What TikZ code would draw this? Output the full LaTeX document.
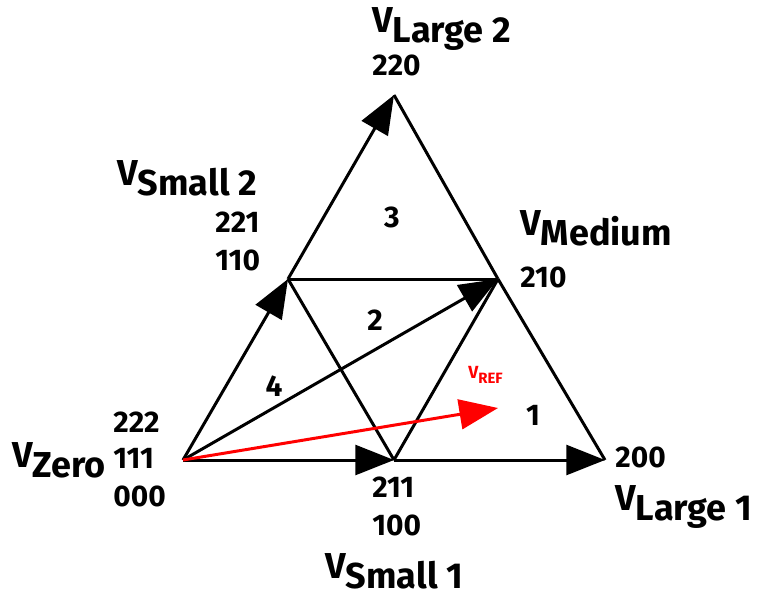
\documentclass[tikz,border=0pt]{standalone}
\usepackage{fontspec}
\setmainfont{Fira Sans}
\usetikzlibrary{arrows.meta, positioning}
\definecolor{VecRed}{HTML}{FF0000}
\newcommand{\vsub}[1]{V\raisebox{-0.3em}{#1}}

\begin{document}
\begin{tikzpicture}[x=0.02cm, y=-0.02cm,
  edge/.style={line width=1.7pt},
  vec/.style={line width=1.7pt, -{Triangle[length=22pt, width=17pt]}},
  vlabel/.style={font=\bfseries\fontsize{20.5}{24}\selectfont, anchor=base west, inner sep=0pt},
  code/.style={font=\bfseries\fontsize{17}{19}\selectfont, anchor=base west, inner sep=0pt},
  region/.style={font=\bfseries\fontsize{17}{19}\selectfont, anchor=base, inner sep=0pt}]
  \useasboundingbox (0,0) rectangle (757,599);
  % Vertices of the vector hexagon sector
  \coordinate (zero) at (183,460);
  \coordinate (small1) at (394,460);
  \coordinate (large1) at (605,460);
  \coordinate (small2) at (288,279);
  \coordinate (medium) at (498,279);
  \coordinate (large2) at (394,95);
  \coordinate (vref) at (498,408);
  % Inner edges
  \draw[edge] (small2) -- (medium);
  \draw[edge] (small2) -- (small1);
  \draw[edge] (small1) -- (medium);
  \draw[edge] (medium) -- (large1);
  \draw[edge] (large2) -- (medium);
  % Switching vectors
  \draw[vec] (zero) -- (small1);
  \draw[vec] (small1) -- (large1);
  \draw[vec] (zero) -- (small2);
  \draw[vec] (small2) -- (large2);
  \draw[vec] (zero) -- (medium);
  % Reference vector
  \draw[vec, VecRed] (zero) -- (vref);
  \node[VecRed, anchor=base west, inner sep=0pt, font=\bfseries\fontsize{10}{12}\selectfont] (vreflbl) at (468,378) {V\raisebox{-0.3em}{\fontsize{8.5}{10}\selectfont REF}};
  % Vector names
  \node[vlabel] (lzero) at (12,467) {\vsub{Zero}};
  \node[vlabel] (lsmall1) at (325,578) {\vsub{Small 1}};
  \node[vlabel] (llarge1) at (615,510) {\vsub{Large 1}};
  \node[vlabel] (lsmall2) at (117,185) {\vsub{Small 2}};
  \node[vlabel] (lmedium) at (520,235) {\vsub{Medium}};
  \node[vlabel] (llarge2) at (372,32) {\vsub{Large 2}};
  % Switching states
  \node[code] (c222) at (113,432) {222};
  \node[code] (c111) at (113,468) {111};
  \node[code] (c000) at (113,506) {000};
  \node[code] (c211) at (372,497) {211};
  \node[code] (c100) at (372,535) {100};
  \node[code] (c200) at (615,467) {200};
  \node[code] (c221) at (215,232) {221};
  \node[code] (c110) at (215,270) {110};
  \node[code] (c210) at (520,287) {210};
  \node[code] (c220) at (372,75) {220};
  % Region numbers
  \node[region] (r1) at (533,425) {1};
  \node[region] (r2) at (375,330) {2};
  \node[region] (r3) at (392,227) {3};
  \node[region] (r4) at (274,396) {4};
\end{tikzpicture}
\end{document}
